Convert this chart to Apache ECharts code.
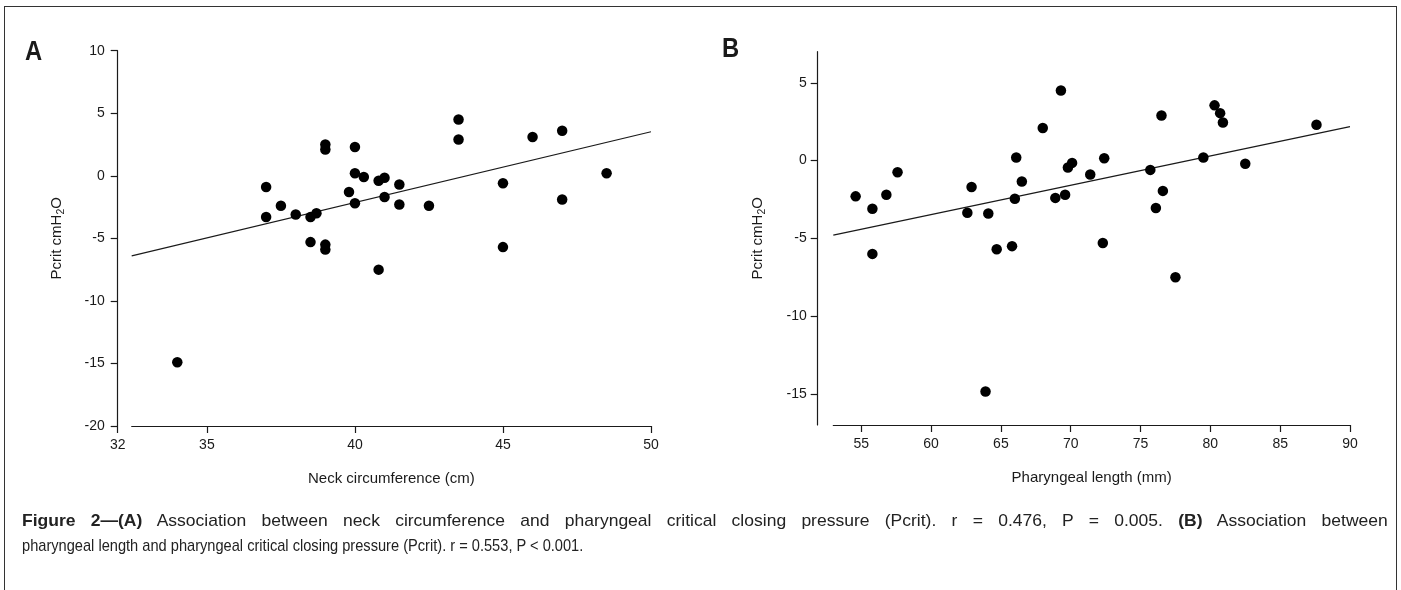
<!DOCTYPE html>
<html>
<head>
<meta charset="utf-8">
<script src="https://cdn.jsdelivr.net/npm/echarts@6/dist/echarts.min.js"></script>
<style>
  html, body { margin: 0; padding: 0; background: #fff; overflow: hidden; }
  #chart { position: absolute; left: 0; top: 0; width: 1401px; height: 590px; }
  #frame { position: absolute; left: 4px; top: 6px; width: 1391px; height: 700px; border: 1.5px solid #333; }
  #caption {
    position: absolute; left: 22px; top: 508px;
    font-family: "Liberation Sans", Arial, sans-serif;
    font-size: 17px; line-height: 25px; color: #222;
  }
  #caption .l1 { width: 1326px; transform: scaleX(1.03); transform-origin: 0 0;
    text-align: justify; text-align-last: justify; white-space: nowrap; }
  #caption .l2 { width: 1588px; transform: scaleX(0.86); transform-origin: 0 0; }
</style>
</head>
<body>
<div id="frame"></div>
<div id="chart"></div>
<div id="caption">
  <div class="l1"><b>Figure 2—(A)</b> Association between neck circumference and pharyngeal critical closing pressure (Pcrit). r = 0.476, P = 0.005. <b>(B)</b> Association between</div>
  <div class="l2">pharyngeal length and pharyngeal critical closing pressure (Pcrit). r = 0.553, P &lt; 0.001.</div>
</div>
<script>
// ---- panel A: neck circumference (cm) vs Pcrit ----
const neckA = [34, 37, 37, 37.5, 38, 38.5, 38.7, 38.5, 39, 39, 39, 39, 39.8, 40, 40, 40,
  40.3, 40.8, 41, 41, 41.5, 41.5, 40.8, 42.5, 43.5, 43.5, 45, 45, 46, 47, 47, 48.5];
const pcritA = [-14.9, -0.9, -3.3, -2.4, -3.1, -3.3, -3.0, -5.3, 2.5, 2.1, -5.5, -5.9, -1.3, 2.3, 0.2, -2.2,
  -0.1, -0.4, -0.15, -1.7, -0.7, -2.3, -7.5, -2.4, 4.5, 2.9, -0.6, -5.7, 3.1, 3.6, -1.9, 0.2];
const fitAx = [32.46, 50];
const fitAy = [-6.4, 3.52];
const ticksAx = [35, 40, 45, 50];

// ---- panel B: pharyngeal length (mm) vs Pcrit ----
const pharB = [54.6, 55.8, 55.8, 56.8, 57.6, 62.6, 62.9, 63.9, 64.1, 64.7, 65.8, 66.0, 66.1, 66.5, 68.0, 68.9, 69.3,
  69.6, 69.8, 70.1, 71.4, 72.3, 72.4, 75.7, 76.1, 76.5, 76.6, 77.5, 79.5, 80.3, 80.7, 80.9, 82.5, 87.6];
const pcritB = [-2.3, -3.1, -6.0, -2.2, -0.75, -3.35, -1.7, -14.85, -3.4, -5.7, -5.5, -2.45, 0.2, -1.35, 2.1, -2.4, 4.5,
  -2.2, -0.45, -0.15, -0.9, -5.3, 0.15, -0.6, -3.05, 2.9, -1.95, -7.5, 0.2, 3.55, 3.05, 2.45, -0.2, 2.3];
const fitBx = [53, 90];
const fitBy = [-4.79, 2.18];
const ticksBx = [55, 60, 65, 70, 75, 80, 85, 90];
const ticksBy = [-15, -10, -5, 0, 5];

const ink = '#1a1a1a';
const font = '"Liberation Sans", Arial, sans-serif';
const zip = (xs, ys) => xs.map((x, i) => [x, ys[i]]);

const chart = echarts.init(document.getElementById('chart'), null, { renderer: 'canvas' });

const axisLine = { show: true, onZero: false, lineStyle: { color: ink, width: 1.2 } };
const axisTick = { show: true, inside: false, length: 7, lineStyle: { color: ink, width: 1.2 } };
const label = { color: ink, fontFamily: font, fontSize: 14 };
const nameStyle = { color: ink, fontFamily: font, fontSize: 15 };
const yName = 'Pcrit cmH{s|2}O';
const yNameStyle = Object.assign({}, nameStyle, {
  rich: { s: { fontFamily: font, fontSize: 10.5, color: ink, padding: [9, 0, 0, 0] } }
});

chart.setOption({
  backgroundColor: 'transparent',
  animation: false,
  graphic: [
    { type: 'text', left: 25, top: 38, scaleX: 0.85, style: { text: 'A', font: 'bold 28px ' + font, fill: ink } },
    { type: 'text', left: 722, top: 35, scaleX: 0.85, style: { text: 'B', font: 'bold 28px ' + font, fill: ink } }
  ],
  grid: [
    { left: 131.7, width: 519.3, top: 50.7, height: 375.3 },
    { left: 117.7, width: 533.3, top: 50.7, height: 375.3 },
    { left: 833.3, width: 516.7, top: 51.7, height: 373.3 }
  ],
  xAxis: [
    {
      gridIndex: 0, type: 'value', min: fitAx[0], max: 50,
      axisLine: axisLine, splitLine: { show: false },
      axisTick: Object.assign({ customValues: ticksAx }, axisTick),
      axisLabel: Object.assign({ customValues: ticksAx, margin: 12 }, label),
      name: 'Neck circumference (cm)', nameLocation: 'middle', nameGap: 45, nameTextStyle: nameStyle
    },
    {
      gridIndex: 1, type: 'value', min: 32, max: 50,
      axisLine: { show: false, onZero: false }, splitLine: { show: false },
      axisTick: Object.assign({ customValues: [32] }, axisTick),
      axisLabel: Object.assign({ customValues: [32], margin: 12 }, label)
    },
    {
      gridIndex: 2, type: 'value', min: fitBx[0], max: 90,
      axisLine: axisLine, splitLine: { show: false },
      axisTick: Object.assign({ customValues: ticksBx }, axisTick),
      axisLabel: Object.assign({ customValues: ticksBx, margin: 12 }, label),
      name: 'Pharyngeal length (mm)', nameLocation: 'middle', nameGap: 45, nameTextStyle: nameStyle
    }
  ],
  yAxis: [
    {
      gridIndex: 0, type: 'value', min: -20, max: 10, interval: 5, offset: 14,
      axisLine: axisLine, splitLine: { show: false }, axisTick: axisTick,
      axisLabel: Object.assign({ margin: 13 }, label),
      name: yName, nameLocation: 'middle', nameGap: 51, nameRotate: 90, nameTextStyle: yNameStyle
    },
    { gridIndex: 1, type: 'value', min: -20, max: 10, show: false },
    {
      gridIndex: 2, type: 'value', min: -17, max: 7, offset: 15.6,
      axisLine: axisLine, splitLine: { show: false },
      axisTick: Object.assign({ customValues: ticksBy }, axisTick),
      axisLabel: Object.assign({ customValues: ticksBy, margin: 11 }, label),
      name: yName, nameLocation: 'middle', nameGap: 50, nameRotate: 90, nameTextStyle: yNameStyle
    }
  ],
  series: [
    {
      type: 'line', xAxisIndex: 0, yAxisIndex: 0, data: zip(fitAx, fitAy),
      symbol: 'none', lineStyle: { color: ink, width: 1.2 }, z: 2
    },
    {
      type: 'scatter', xAxisIndex: 0, yAxisIndex: 0, data: zip(neckA, pcritA),
      symbol: 'circle', symbolSize: 10.5, itemStyle: { color: '#000', opacity: 1 }, z: 3
    },
    {
      type: 'line', xAxisIndex: 2, yAxisIndex: 2, data: zip(fitBx, fitBy),
      symbol: 'none', lineStyle: { color: ink, width: 1.2 }, z: 2
    },
    {
      type: 'scatter', xAxisIndex: 2, yAxisIndex: 2, data: zip(pharB, pcritB),
      symbol: 'circle', symbolSize: 10.5, itemStyle: { color: '#000', opacity: 1 }, z: 3
    }
  ]
});
</script>
</body>
</html>
